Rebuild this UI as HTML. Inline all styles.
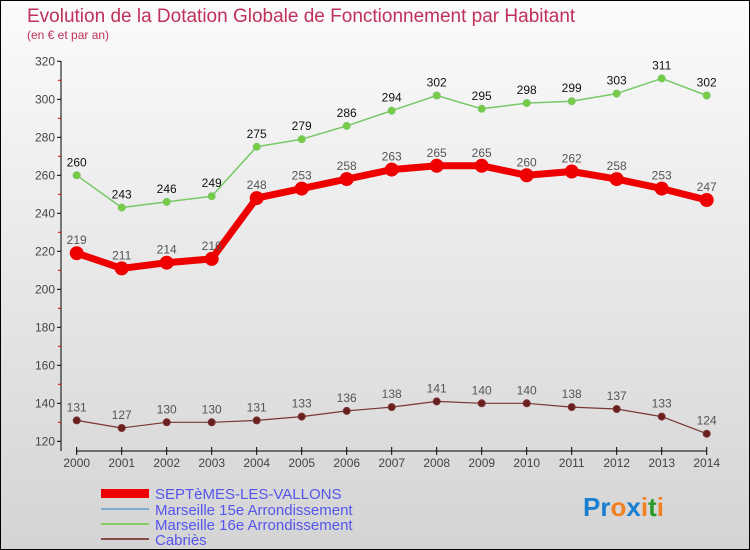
<!DOCTYPE html>
<html><head><meta charset="utf-8"><style>
body{margin:0}
#c{position:relative;width:748px;height:548px;border:1px solid #000;background:linear-gradient(#fbfbfb,#d4d4d4);font-family:"Liberation Sans",sans-serif;overflow:hidden}
</style></head><body>
<div id="c">
<svg id="s" width="748" height="548" xmlns="http://www.w3.org/2000/svg">
<text x="26" y="21" font-size="19" fill="#c0305a">Evolution de la Dotation Globale de Fonctionnement par Habitant</text>
<text x="26" y="38" font-size="12" fill="#c0305a">(en € et par an)</text>
<g id="axes"></g><g id="series"></g>
<g>
<rect x="100" y="488" width="48" height="9" fill="#e00"/>
<text x="154" y="498" font-size="15" fill="#5555ee">SEPTèMES-LES-VALLONS</text>
<rect x="100" y="507" width="48" height="2" fill="#7aadd0"/>
<text x="154" y="514" font-size="15" fill="#5555ee">Marseille 15e  Arrondissement</text>
<rect x="100" y="522" width="48" height="2" fill="#88cc66"/>
<text x="154" y="529" font-size="15" fill="#5555ee">Marseille 16e  Arrondissement</text>
<rect x="100" y="537" width="48" height="2" fill="#8b4a4a"/>
<text x="154" y="544" font-size="15" fill="#5555ee">Cabriès</text>
</g>
<text x="582" y="515" font-size="26" font-weight="bold"><tspan fill="#1a7fd0">Pr</tspan><tspan fill="#f08020">o</tspan><tspan fill="#1a7fd0">x</tspan><tspan fill="#f08020">i</tspan><tspan fill="#2a9a2a">t</tspan><tspan fill="#f08020">i</tspan></text>
</svg></div>
<script>
const years=[2000,2001,2002,2003,2004,2005,2006,2007,2008,2009,2010,2011,2012,2013,2014];
const septemes=[219,211,214,216,248,253,258,263,265,265,260,262,258,253,247];
const m16=[260,243,246,249,275,279,286,294,302,295,298,299,303,311,302];
const cabries=[131,127,130,130,131,133,136,138,141,140,140,138,137,133,124];
const yTicks=[120,140,160,180,200,220,240,260,280,300,320];
const NS="http://www.w3.org/2000/svg";
const xs=i=>75.7+i*45;
const ys=v=>60.3+(320-v)*1.9;
function mk(t,a,p){const e=document.createElementNS(NS,t);for(const k in a)e.setAttribute(k,a[k]);p.appendChild(e);return e;}
const ax=document.getElementById('axes');
let e=mk('line',{x1:60,y1:60,x2:60,y2:450,stroke:'#000','stroke-width':1},ax);


e=mk('line',{x1:75,y1:450,x2:706,y2:450,stroke:'#000','stroke-width':1},ax);


yTicks.forEach((v,i)=>{
 mk('line',{x1:56,y1:ys(v),x2:60,y2:ys(v),stroke:'#000'},ax);
 if(i<yTicks.length-1)mk('line',{x1:57,y1:ys(v+10),x2:60,y2:ys(v+10),stroke:'#d00'},ax);
 const t=mk('text',{x:54,y:ys(v)+4,'font-size':12,fill:'#444','text-anchor':'end'},ax);
 t.textContent=v;
 
 
});
years.forEach((y,i)=>{
 mk('line',{x1:xs(i),y1:446,x2:xs(i),y2:454,stroke:'#000'},ax);
 const t=mk('text',{x:xs(i),y:466,'font-size':12,fill:'#444','text-anchor':'middle'},ax);
 t.textContent=y;
 
 
});
const sg=document.getElementById('series');
function series(data,name,col,w,r,fill,lab){
 const g=mk('g',{},sg);
 
 
 mk('polyline',{points:data.map((v,i)=>xs(i)+','+ys(v)).join(' '),fill:'none',stroke:col,'stroke-width':w,'stroke-linejoin':'round'},g);
 data.forEach((v,i)=>{
  const c=mk('circle',{cx:xs(i),cy:ys(v),r:r,fill:fill,stroke:col,'stroke-width':1},g);
  
  
  const t=mk('text',{x:xs(i),y:ys(v)-9,'font-size':12,fill:lab,'text-anchor':'middle'},g);
  t.textContent=v;
  
  
 });
}
series(m16,'m16-line','#77c866',1.5,3.5,'#77cc44','#111');
series(septemes,'septemes-line','#ee0000',7,6.5,'#ee0000','#555');
series(cabries,'cabries-line','#7a3535',1.2,3.5,'#6a1f1f','#555');
</script>
</body></html>
